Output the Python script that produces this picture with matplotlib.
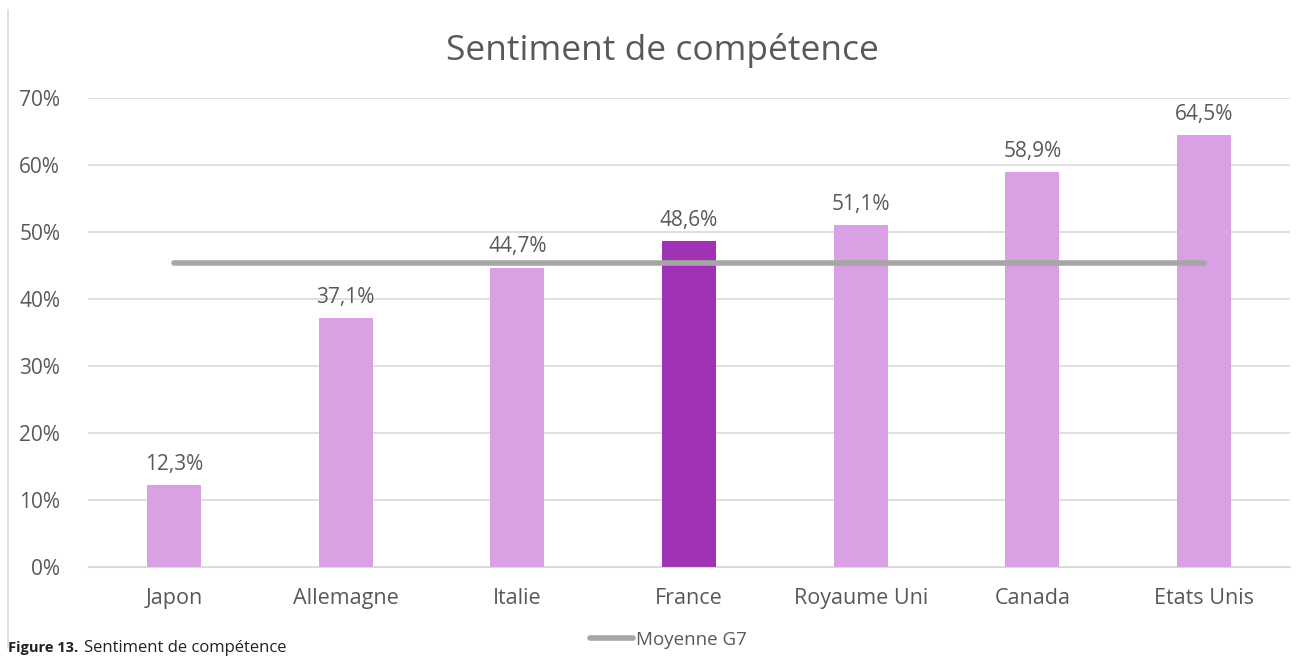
import numpy as np
import matplotlib.pyplot as plt
from matplotlib.lines import Line2D

# data
pays = ['Japon', 'Allemagne', 'Italie', 'France', 'Royaume Uni', 'Canada', 'Etats Unis']
valeurs = [12.3, 37.1, 44.7, 48.6, 51.1, 58.9, 64.5]
moyenne_g7 = 45.3
yticks = [0, 10, 20, 30, 40, 50, 60, 70]

plt.rcParams['font.family'] = ['Open Sans', 'DejaVu Sans']
gris = '#595959'
clair = '#D9A0E3'
fonce = '#A033B3'

fig = plt.figure(figsize=(13.06, 6.68), dpi=100)
ax = fig.add_axes([0.0674, 0.1512, 0.9203, 0.7021])

x = np.arange(len(pays))
couleurs = [fonce if p == 'France' else clair for p in pays]
ax.bar(x, valeurs, width=0.315, color=couleurs, zorder=2)

#moyenne G7 across the bars
ax.plot([x[0], x[-1]], [moyenne_g7, moyenne_g7], color='#A6A6A6', lw=4,
        solid_capstyle='round', zorder=3)

for xi, v in zip(x, valeurs):
    ax.text(xi, v + 1.5, ('%.1f%%' % v).replace('.', ','), ha='center', va='bottom',
            fontsize=15, color=gris)

ax.set_xlim(-0.5, len(pays) - 0.5)
ax.set_ylim(0, 70)
ax.set_yticks(yticks)
ax.set_yticklabels(['%d%%' % t for t in yticks], fontsize=15, color=gris)
ax.set_xticks(x)
ax.set_xticklabels(pays, fontsize=15.5, color=gris)
ax.tick_params(length=0)
ax.tick_params(axis='y', pad=20)
ax.tick_params(axis='x', pad=15)
ax.grid(axis='y', color='#D9D9D9', lw=1.2, zorder=0)
for s in ['top', 'right', 'left']:
    ax.spines[s].set_visible(False)
ax.spines['bottom'].set_color('#D9D9D9')

fig.text(0.507, 0.925, 'Sentiment de compétence', ha='center', va='center',
         fontsize=25.5, color=gris)

# border line at left
fig.add_artist(Line2D([0.0065, 0.0065], [0.03, 0.985], color='#D9D9D9', lw=1.2))

# caption: bold part then normal part on same baseline
fig_lbl = fig.text(0.006, 0.024, 'Figure 13.', fontsize=10.5, fontweight='bold',
                   color='#222222', va='baseline')
fig.canvas.draw()
bb = fig_lbl.get_window_extent()
fig.text((bb.x1 + 6) / fig.bbox.width, 0.024, 'Sentiment de compétence', fontsize=12,
         color='#222222', va='baseline')

leg = ax.legend([Line2D([0], [0], color='#A6A6A6', lw=4, solid_capstyle='round')],
                ['Moyenne G7'], loc='center', bbox_to_anchor=(0.512, 0.042),
                bbox_transform=fig.transFigure, frameon=False, fontsize=13.5,
                handlelength=2.3, handletextpad=0.15)
for t in leg.get_texts():
    t.set_color(gris)

fig.savefig('out.png', dpi=100)
